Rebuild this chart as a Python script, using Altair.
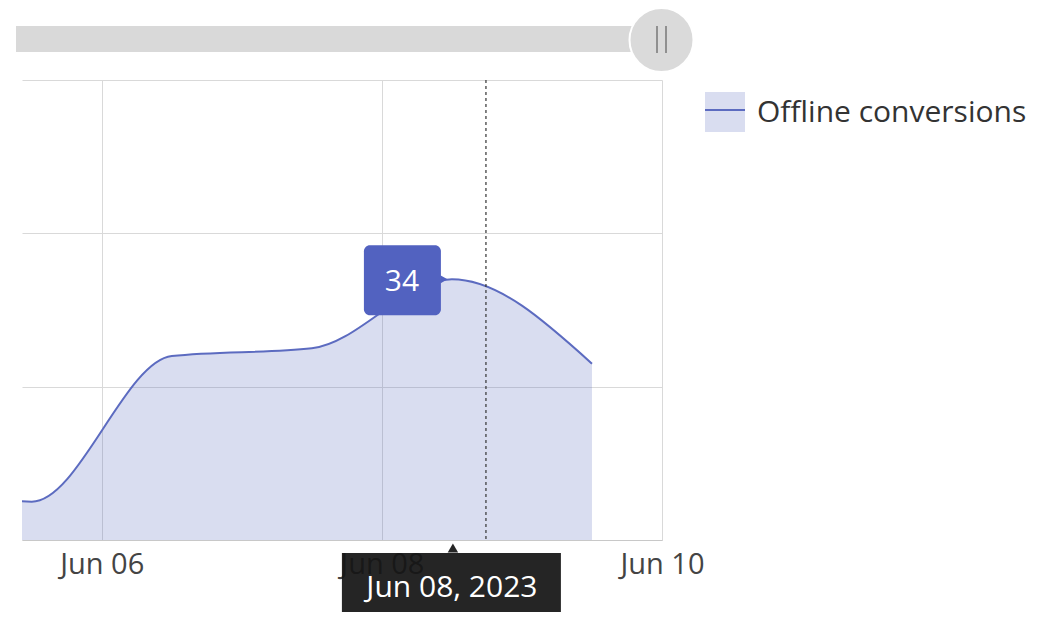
import altair as alt
import pandas as pd

# ---- data ----
dates = ["2023-06-04T12:00:00", "2023-06-05T12:00:00", "2023-06-06T12:00:00",
         "2023-06-07T12:00:00", "2023-06-08T12:00:00", "2023-06-09T12:00:00"]
conversions = [12, 5, 24, 25, 34, 23]
series_name = "Offline conversions"

hover_date = ["2023-06-08T12:00:00"]
hover_value = [34]
hover_text = ["34"]
hover_date_label = ["Jun 08, 2023"]
cursor_time = ["2023-06-08T17:50:00"]

x_ticks = [alt.DateTime(year=2023, month=6, date=d) for d in (6, 8, 10)]
y_ticks = [0, 20, 40, 60]

FONT = "Open Sans"
LINE = "#5c6bc0"
TIP = "#5262c0"
FS = 30

df = pd.DataFrame({"date": dates, "value": conversions})
hov = pd.DataFrame({"date": hover_date, "value": hover_value,
                    "txt": hover_text, "dlabel": hover_date_label})
cur = pd.DataFrame({"t": cursor_time})
one = pd.DataFrame({"name": [series_name]})

xscale = alt.Scale(domain=[alt.DateTime(year=2023, month=6, date=5, hours=10, minutes=20),
                           alt.DateTime(year=2023, month=6, date=10)])
yscale = alt.Scale(domain=[0, 60], nice=False)

x_enc = alt.X("date:T", scale=xscale, title=None,
              axis=alt.Axis(values=x_ticks, format="%b %d", grid=True, ticks=False,
                            labelPadding=10, labelFontSize=FS - 1, labelColor="#444",
                            labelFlush=False, labelOverlap=False, labelBound=False,
                            labelFont=FONT, domainColor="#c8c8c8", gridColor="#d9d9d9"))
y_enc = alt.Y("value:Q", scale=yscale, title=None,
              axis=alt.Axis(values=y_ticks, labels=False, ticks=False, domain=False,
                            grid=True, gridColor="#d9d9d9"))

base = alt.Chart(df)
area = base.mark_area(interpolate="monotone", clip=True, color=LINE, opacity=0.23).encode(x=x_enc, y=y_enc)
line = base.mark_line(interpolate="monotone", clip=True, color=LINE, strokeWidth=2).encode(x=x_enc, y=y_enc)

cursor = alt.Chart(cur).mark_rule(strokeDash=[3, 3], color="#333", strokeWidth=1.2).encode(
    x=alt.X("t:T", scale=xscale))

hx = alt.X("date:T", scale=xscale)
hx2 = alt.X2("date:T")
hy = alt.Y("value:Q", scale=yscale)
hy2 = alt.Y2("value:Q")
hb = alt.Chart(hov)
tip_box = hb.mark_rect(color=TIP, cornerRadius=6, xOffset=-88, x2Offset=-11,
                       yOffset=-34, y2Offset=36, opacity=1).encode(x=hx, x2=hx2, y=hy, y2=hy2)
tip_arrow = hb.mark_point(shape="triangle-right", filled=True, size=70, color=TIP,
                          opacity=1, xOffset=-8).encode(x=hx, y=hy)
tip_text = hb.mark_text(color="white", fontSize=FS, font=FONT, xOffset=-50, yOffset=3,
                        baseline="middle").encode(x=hx, y=hy, text="txt:N")

date_box = hb.mark_rect(color="#141414", opacity=0.93, xOffset=-110, x2Offset=109).encode(
    x=hx, x2=hx2, y=alt.value(473), y2=alt.value(545))
date_arrow = hb.mark_point(shape="triangle-up", filled=True, size=110, color="#141414",
                           opacity=0.93, xOffset=1).encode(x=hx, y=alt.value(468))
date_text = hb.mark_text(color="white", fontSize=FS, font=FONT, baseline="middle").encode(
    x=hx, y=alt.value(508), text="dlabel:N")

lg = alt.Chart(one)
leg_rect = lg.mark_rect(color=LINE, opacity=0.23).encode(
    x=alt.value(683), x2=alt.value(723), y=alt.value(12), y2=alt.value(52))
leg_line = lg.mark_rule(color=LINE, strokeWidth=2).encode(
    x=alt.value(683), x2=alt.value(723), y=alt.value(30))
leg_text = lg.mark_text(align="left", baseline="middle", fontSize=FS, font=FONT,
                        color="#333").encode(x=alt.value(735), y=alt.value(33), text="name:N")

sl_bar = lg.mark_rect(color="#d9d9d9").encode(
    x=alt.value(-6), x2=alt.value(625), y=alt.value(-54), y2=alt.value(-28))
sl_knob = lg.mark_circle(size=4096, color="#dadada", opacity=1, stroke="white",
                         strokeWidth=2).encode(x=alt.value(639.5), y=alt.value(-40))
sl_l1 = lg.mark_rule(color="#777", strokeWidth=1.5).encode(
    x=alt.value(635), y=alt.value(-54), y2=alt.value(-27))
sl_l2 = lg.mark_rule(color="#777", strokeWidth=1.5).encode(
    x=alt.value(644), y=alt.value(-54), y2=alt.value(-27))

chart = alt.layer(
    area, line, cursor, tip_box, tip_arrow, tip_text,
    date_box, date_arrow, date_text,
    leg_rect, leg_line, leg_text,
    sl_bar, sl_knob, sl_l1, sl_l2,
).properties(
    width=640, height=460,
    autosize=alt.AutoSizeParams(type="none"),
    padding={"left": 14, "top": 72, "right": 386, "bottom": 72},
).configure_view(stroke=None)

chart.save("out.html", embed_options={"renderer": "svg", "actions": False})
